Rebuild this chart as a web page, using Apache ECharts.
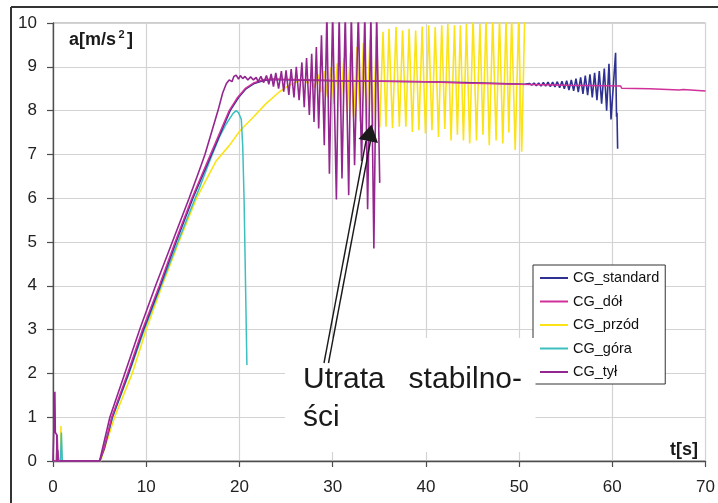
<!DOCTYPE html>
<html>
<head>
<meta charset="utf-8">
<style>
html,body{margin:0;padding:0;background:#fff;}
#chart{width:718px;height:503px;}
</style>
<script src="https://cdn.jsdelivr.net/npm/echarts@6/dist/echarts.min.js"></script>
</head>
<body>
<div id="chart"></div>
<script>
// Acceleration a [m/s^2] versus time t [s] for five centre-of-gravity variants.
const seriesNames = ['CG_standard', 'CG_dół', 'CG_przód', 'CG_góra', 'CG_tył'];
const xTicks = { min: 0, max: 70, step: 10 };
const yTicks = { min: 0, max: 10, step: 1 };

// [t, a] samples
const standardPts = [[0,0],[0.4,0],[0.5,0.25],[0.6,0],[5.0,0],[5.5,0.28],[6.35,1.0],[8.1,2.0],[9.7,3.0],[11.5,4.0],[13.2,5.0],[15.0,6.0],[17.0,7.0],[18.1,7.55],[19.0,8.0],[19.9,8.3],[20.7,8.5],[21.6,8.62],[22.6,8.69],[23.6,8.71],[26,8.7],[30,8.68],[35,8.67],[40,8.66],[44,8.64],[48,8.62],[50.6,8.6],
  [51.1,8.62],[51.35,8.58],[51.6,8.63],[51.85,8.57],[52.1,8.63],[52.35,8.56],[52.6,8.64],[52.85,8.56],[53.1,8.65],[53.35,8.55],[53.6,8.65],[53.85,8.54],[54.1,8.66],[54.35,8.52],[54.6,8.67],[54.85,8.5],[55.1,8.68],[55.35,8.47],[55.6,8.7],[55.85,8.45],[56.1,8.73],[56.35,8.42],[56.6,8.76],[56.85,8.38],[57.1,8.8],[57.35,8.35],[57.6,8.83],[57.85,8.3],[58.1,8.86],[58.35,8.24],[58.6,8.9],[58.85,8.16],[59.14,8.96],[59.39,8.0],[59.64,9.07],[59.86,7.8],[60.35,9.32],[60.45,7.86],[60.5,7.95],[60.57,7.13]];

const dolPts = [[0,0],[0.35,0],[0.45,0.6],[0.55,0],[5.0,0],[5.5,0.3],[6.3,1.0],[8.0,2.0],[9.6,3.0],[11.4,4.0],[13.1,5.0],[14.9,6.0],[16.9,7.0],[18.0,7.55],[18.9,8.0],[19.8,8.3],[20.6,8.5],[21.5,8.63],[22.5,8.7],[23.5,8.72],[30,8.69],[40,8.66],[44,8.63],[50,8.6],[55,8.58],[60.9,8.56],[61.0,8.51],[64.0,8.5],[64.1,8.47],[67.2,8.47],[67.4,8.43],[67.6,8.48],[67.8,8.46],[70,8.45]];

const przodPts = [[0,0],[0.45,0],[0.5,0.2],[0.55,0],[0.8,0],[0.85,0.8],[0.95,0],[5.1,0],[6.6,1.0],[8.5,2.0],[10.0,3.0],[11.7,4.0],[13.5,5.0],[15.4,6.0],[17.5,6.85],[18.9,7.2],[20.1,7.55],[21.4,7.83],[22.85,8.16],[24.3,8.43],[25.35,8.58],[26.4,8.68],[27.0,8.7],
  [27.35,8.62],[27.7,8.76],[28.05,8.52],[28.4,8.83],[28.75,8.42],[29.1,8.9],[29.45,8.3],[29.8,8.98],[30.15,8.15],[30.5,9.08],[30.85,8.05],[31.2,9.2],[31.55,7.95],[31.9,9.32],[32.25,7.85],[32.6,9.45],[32.95,7.75],[33.3,9.55],[33.65,7.7],[34.0,9.62],[34.35,7.65],[34.7,9.7],[35.05,7.62],[35.4,9.8],
  [35.72,7.63],[36.04,9.87],[36.42,7.6],[36.8,9.91],[37.15,7.63],[37.5,9.83],[37.85,7.63],[38.2,9.87],[38.55,7.51],[38.9,9.83],[39.25,7.55],[39.6,9.92],[39.95,7.48],[40.3,9.95],[40.65,7.55],[41.0,9.91],[41.35,7.4],[41.7,9.95],[42.03,7.58],[42.35,9.98],[42.7,7.32],[43.07,9.95],[43.38,7.45],[43.7,9.95],[44.03,7.32],[44.35,9.98],[44.7,7.25],[45.06,10.1],[45.43,7.32],[45.8,9.98],[46.12,7.45],[46.45,10.1],[46.8,7.21],[47.17,10.1],[47.53,7.32],[47.9,10.1],[48.25,7.25],[48.6,10.1],[48.9,7.5],[49.2,10.1],[49.58,7.1],[49.95,10.1],[50.28,7.06],[50.6,10.1]];

const goraPts = [[0,0],[0.8,0],[0.9,0.65],[1.0,0],[5.05,0],[6.4,1.0],[8.15,2.0],[9.8,3.0],[11.6,4.0],[13.4,5.0],[15.25,6.0],[15.7,6.23],[17.0,6.95],[17.86,7.4],[18.6,7.7],[19.3,7.93],[19.65,8.0],[19.9,7.95],[20.2,7.8],[20.35,7.2],[20.5,5.95],[20.8,2.19]];

const tylPts = [[0,0],[0.15,0],[0.2,1.58],[0.25,0.65],[0.4,0.6],[0.45,0],[0.6,-0.05],[0.9,0],[5.0,0],[6.1,1.0],[7.7,2.0],[9.3,3.0],[11.0,4.0],[12.8,5.0],[14.6,6.0],[15.7,6.64],[16.3,7.0],[17.0,7.5],[17.7,8.0],[18.2,8.4],[18.6,8.62],[18.9,8.7],[19.2,8.66],[19.4,8.78],[19.65,8.81],[19.9,8.72],[20.1,8.8],[20.35,8.73],[20.6,8.78],[20.9,8.7],[21.2,8.77],[21.5,8.7],[21.8,8.76],
  [22.0,8.66],[22.3,8.78],[22.6,8.64],[22.9,8.8],[23.15,8.6],[23.4,8.84],[23.65,8.55],[23.9,8.86],[24.2,8.5],[24.5,8.9],[24.75,8.43],[25.0,8.92],[25.3,8.36],[25.55,8.95],[25.85,8.3],[26.1,9.0],[26.4,8.24],[26.7,9.1],[26.95,8.08],[27.2,9.2],[27.5,7.9],[27.75,9.3],[28.0,7.74],[28.25,9.45],[28.5,7.59],[28.8,9.72],[29.1,7.21],[29.38,10.2],[29.65,6.56],[30.0,10.2],[30.4,5.97],[30.7,10.2],[31.0,6.45],[31.35,10.2],[31.72,6.07],[32.0,10.2],[32.35,6.75],[32.75,10.2],[33.1,6.85],[33.45,10.2],[33.75,5.75],[34.1,10.2],[34.42,4.85],[34.72,10.2],[35.05,6.35]];

const colors = {
  standard: '#2e3192',
  dol: '#d1309a',
  przod: '#fbe318',
  gora: '#3dbfc0',
  tyl: '#93278f'
};

const FONT = "'Liberation Sans', Arial, Helvetica, sans-serif";

function lineSeries(name, pts, color, width) {
  return {
    name: name,
    type: 'line',
    data: pts,
    showSymbol: false,
    symbol: 'none',
    clip: true,
    animation: false,
    lineStyle: { color: color, width: width },
    itemStyle: { color: color }
  };
}

const chart = echarts.init(document.getElementById('chart'), null, { renderer: 'canvas' });

chart.setOption({
  animation: false,
  backgroundColor: '#ffffff',
  textStyle: { fontFamily: FONT },
  grid: {
    left: 53, top: 23, width: 654, height: 438,
    show: true, borderColor: '#9b9b9b', borderWidth: 1, backgroundColor: 'transparent'
  },
  legend: {
    data: seriesNames,
    orient: 'vertical',
    left: 533, top: 265,
    icon: 'rect',
    itemWidth: 28, itemHeight: 2,
    itemGap: 7.5,
    padding: [5, 6, 4, 7],
    backgroundColor: '#ffffff',
    borderColor: '#333333', borderWidth: 1,
    textStyle: { fontSize: 14.5, color: '#111', fontFamily: FONT, lineHeight: 16 },
    selectedMode: false,
    z: 10
  },
  xAxis: {
    type: 'value', min: xTicks.min, max: xTicks.max, interval: xTicks.step,
    axisLine: { show: true, onZero: false, lineStyle: { color: '#4d4d4d', width: 1.3 } },
    axisTick: { show: true, inside: false, length: 6, lineStyle: { color: '#4d4d4d', width: 1.2 } },
    axisLabel: { margin: 18, fontSize: 17, color: '#222', fontFamily: FONT },
    splitLine: { show: true, lineStyle: { color: '#d3d3d3', width: 1.2 } }
  },
  yAxis: {
    type: 'value', min: yTicks.min, max: yTicks.max, interval: yTicks.step,
    axisLine: { show: true, onZero: false, lineStyle: { color: '#4d4d4d', width: 1.3 } },
    axisTick: { show: true, inside: false, length: 6, lineStyle: { color: '#4d4d4d', width: 1.2 } },
    axisLabel: { margin: 16, fontSize: 17, color: '#222', fontFamily: FONT, padding: [6, 0, 0, 0] },
    splitLine: { show: true, lineStyle: { color: '#d3d3d3', width: 1.2 } }
  },
  series: [
    lineSeries('CG_przód', przodPts, colors.przod, 1.6),
    lineSeries('CG_góra', goraPts, colors.gora, 1.5),
    lineSeries('CG_standard', standardPts, colors.standard, 1.6),
    lineSeries('CG_dół', dolPts, colors.dol, 1.5),
    lineSeries('CG_tył', tylPts, colors.tyl, 1.6)
  ],
  graphic: {
    elements: [
      // outer frame (top and left edges)
      { type: 'line', z: 100, shape: { x1: 11, y1: 7, x2: 718, y2: 7 }, style: { stroke: '#333', lineWidth: 2 } },
      { type: 'line', z: 100, shape: { x1: 11, y1: 7, x2: 11, y2: 503 }, style: { stroke: '#333', lineWidth: 2 } },
      // axis titles
      { type: 'text', z: 100, x: 69, y: 40, style: { text: 'a[m/s', font: 'bold 18px ' + FONT, fill: '#1a1a1a', textVerticalAlign: 'middle', verticalAlign: 'middle' } },
      { type: 'text', z: 100, x: 118.5, y: 35, style: { text: '2', font: 'bold 11px ' + FONT, fill: '#1a1a1a', textVerticalAlign: 'middle', verticalAlign: 'middle' } },
      { type: 'text', z: 100, x: 127, y: 40, style: { text: ']', font: 'bold 18px ' + FONT, fill: '#1a1a1a', textVerticalAlign: 'middle', verticalAlign: 'middle' } },
      { type: 'text', z: 100, x: 670, y: 450, style: { text: 't[s]', font: 'bold 18px ' + FONT, fill: '#1a1a1a', textVerticalAlign: 'middle', verticalAlign: 'middle' } },
      // annotation box
      { type: 'rect', z: 100, shape: { x: 285, y: 338, width: 250.5, height: 114 }, style: { fill: '#ffffff' } },
      { type: 'text', z: 101, x: 303, y: 380, style: { text: 'Utrata', font: '30px ' + FONT, fill: '#1a1a1a', textVerticalAlign: 'middle', verticalAlign: 'middle' } },
      { type: 'text', z: 101, x: 522, y: 380, style: { text: 'stabilno-', font: '30px ' + FONT, fill: '#1a1a1a', textAlign: 'right', align: 'right', textVerticalAlign: 'middle', verticalAlign: 'middle' } },
      { type: 'text', z: 101, x: 303, y: 418, style: { text: 'ści', font: '30px ' + FONT, fill: '#1a1a1a', textVerticalAlign: 'middle', verticalAlign: 'middle' } },
      // arrow: hollow shaft with filled head
      { type: 'line', z: 102, shape: { x1: 324, y1: 363, x2: 366, y2: 141 }, style: { stroke: '#1a1a1a', lineWidth: 1.4 } },
      { type: 'line', z: 102, shape: { x1: 328.5, y1: 363, x2: 370.5, y2: 141 }, style: { stroke: '#1a1a1a', lineWidth: 1.4 } },
      { type: 'polygon', z: 102, shape: { points: [[371.5, 124.5], [358.5, 139], [378, 143]] }, style: { fill: '#1a1a1a' } }
    ]
  }
});
</script>
</body>
</html>
